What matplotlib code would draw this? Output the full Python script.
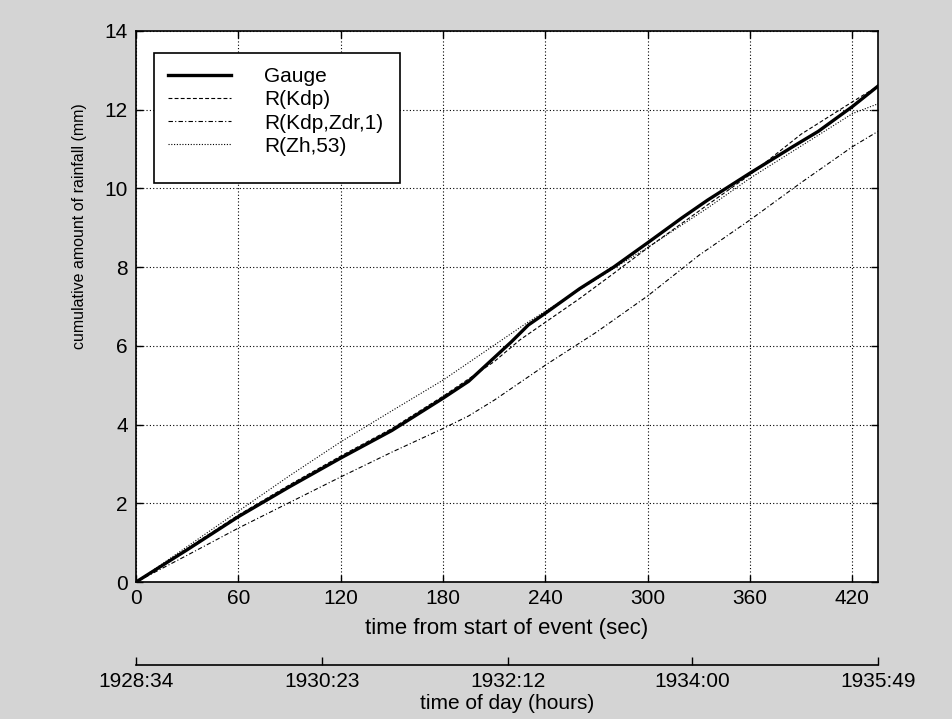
"""
Cumulative rainfall: gauge vs radar estimates
"""

import numpy as np
import matplotlib.pyplot as plt
from matplotlib.patches import Rectangle

plt.rcParams['font.family'] = ['Liberation Sans', 'DejaVu Sans']

# Data (seconds from start of event, mm)
T_GAUGE = [0, 30, 60, 90, 120, 150, 180, 195, 210, 220, 230, 240, 260, 280,
           300, 320, 335, 360, 385, 400, 420, 435]
GAUGE = [0, 0.82, 1.66, 2.42, 3.15, 3.85, 4.67, 5.1, 5.7, 6.1, 6.53, 6.83,
         7.45, 8.0, 8.62, 9.25, 9.7, 10.39, 11.06, 11.45, 12.08, 12.6]

T_KDP = [0, 30, 60, 90, 120, 150, 180, 210, 225, 240, 260, 280, 300, 335,
         360, 390, 420, 435]
R_KDP = [0, 0.85, 1.7, 2.47, 3.2, 3.9, 4.72, 5.6, 6.15, 6.6, 7.2, 7.84,
         8.49, 9.58, 10.35, 11.38, 12.2, 12.6]

T_KDP_ZDR = [0, 30, 60, 90, 120, 150, 165, 180, 195, 210, 240, 270, 300,
             330, 360, 390, 420, 435]
R_KDP_ZDR = [0, 0.68, 1.37, 2.02, 2.67, 3.3, 3.6, 3.9, 4.22, 4.62, 5.51,
             6.35, 7.27, 8.3, 9.2, 10.15, 11.06, 11.45]

T_ZH = [0, 30, 60, 90, 120, 150, 180, 229, 270, 300, 335, 360, 420, 435]
R_ZH = [0, 0.9, 1.8, 2.7, 3.56, 4.35, 5.13, 6.58, 7.7, 8.5, 9.5, 10.26,
        11.9, 12.15]

HORA_TICKS = [0, 109, 218, 326, 435]
HORA_LABELS = ['1928:34', '1930:23', '1932:12', '1934:00', '1935:49']


def main():
    fig = plt.figure(figsize=(9.53, 7.19), dpi=100, facecolor='#d4d4d4')
    ax = fig.add_axes([0.1427, 0.1905, 0.7786, 0.7664])

    ax.plot(T_GAUGE, GAUGE, color='black', lw=2.4, label='Gauge')
    ax.plot(T_KDP, R_KDP, color='black', lw=0.8, ls=(0, (3.5, 2)),
            label='R(Kdp)')
    ax.plot(T_KDP_ZDR, R_KDP_ZDR, color='black', lw=0.8,
            ls=(0, (4, 2, 1, 2)), label='R(Kdp,Zdr,1)')
    ax.plot(T_ZH, R_ZH, color='black', lw=0.8, ls=(0, (1, 1.5)),
            label='R(Zh,53)')

    ax.set_xlim(0, 435)
    ax.set_ylim(0, 14)
    ax.set_xticks(range(0, 421, 60))
    ax.set_yticks(range(0, 15, 2))
    ax.grid(True, color='black', ls=(0, (1, 2)), lw=0.8)
    ax.tick_params(direction='in', top=True, right=True, labelsize=15,
                   length=5, width=1)
    ax.tick_params(axis='x', pad=5)
    ax.tick_params(axis='y', pad=6)
    for s in ax.spines.values():
        s.set_linewidth(1.2)

    ax.set_xlabel('time from start of event (sec)', fontsize=16, labelpad=7)
    ax.set_ylabel('cumulative amount of rainfall (mm)', fontsize=11.5)
    ax.yaxis.set_label_coords(-0.066, 0.646)

    # caixa da legenda desenhada à parte
    caixa = Rectangle((0.0243, 0.724), 0.3315, 0.236, transform=ax.transAxes,
                      facecolor='white', edgecolor='black', lw=1.2,
                      zorder=4.5)
    ax.add_patch(caixa)
    ax.legend(loc='upper left', bbox_to_anchor=(0.0243, 0.96),
              borderaxespad=0, fontsize=15, handlelength=3.0,
              handletextpad=1.6, labelspacing=0.2, borderpad=0.68,
              frameon=False)

    # eixo secundário com a hora do dia
    sec = ax.secondary_xaxis(-0.151)
    sec.set_xticks(HORA_TICKS)
    sec.set_xticklabels(HORA_LABELS)
    sec.tick_params(direction='in', labelsize=15, length=6, width=1, pad=5)
    sec.spines['bottom'].set_linewidth(1.2)
    sec.set_xlabel('time of day (hours)', fontsize=15, labelpad=2)

    plt.savefig('out.png', dpi=100, facecolor=fig.get_facecolor())


if __name__ == "__main__":
    main()
